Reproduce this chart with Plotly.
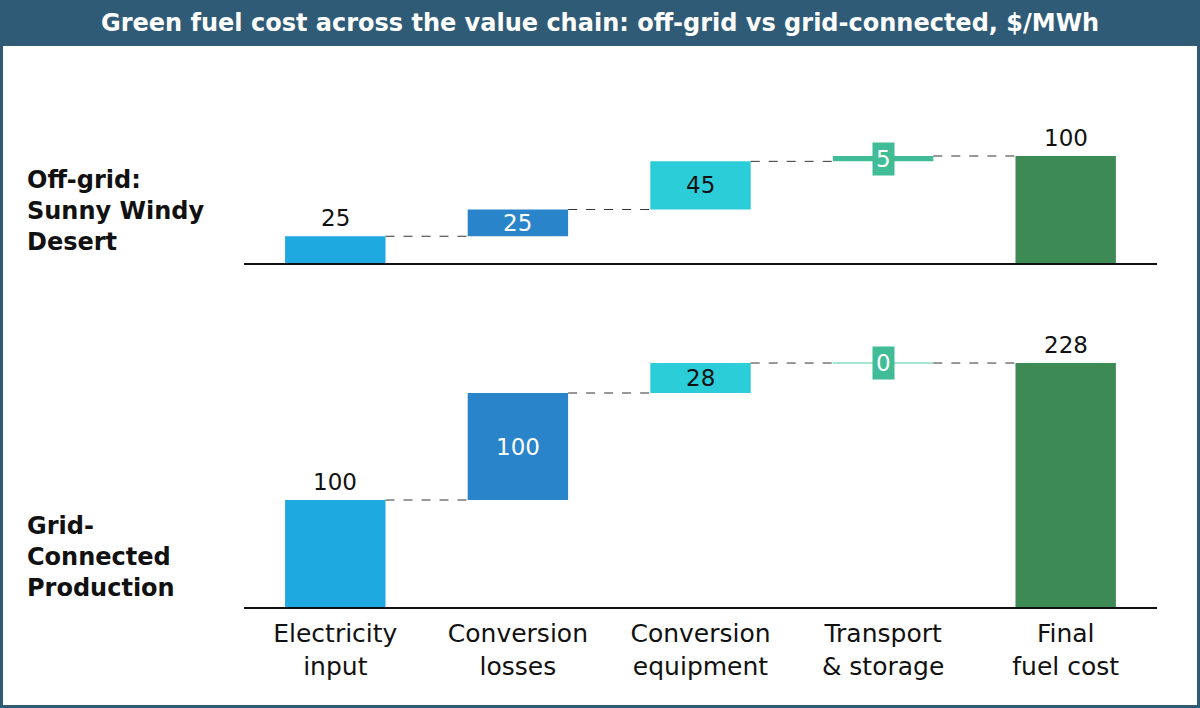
import plotly.graph_objects as go

# ---------------- data ----------------
title_text = "Green fuel cost across the value chain: off-grid vs grid-connected, $/MWh"
categories = ["Electricity<br>input", "Conversion<br>losses", "Conversion<br>equipment",
              "Transport<br>& storage", "Final<br>fuel cost"]
offgrid_steps = [25, 25, 45, 5]
grid_steps = [100, 100, 28, 0]
row_labels = ["Off-grid:<br>Sunny Windy<br>Desert", "Grid-<br>Connected<br>Production"]

# ---------------- styles ----------------
bar_colors = ["#1FA9E1", "#2A84C9", "#2ACDD8", "#40BC96", "#3D8A55"]
zero_color = "#8ADBC3"
label_mode = ["outside", "inside", "inside", "box", "outside"]
label_colors = ["#111111", "#FFFFFF", "#111111", "#FFFFFF", "#111111"]
FONT = "DejaVu Sans"
BAR_W = 0.55
HEADER = "#2F5B77"

W, H = 1200, 708
px_per_unit = 1.07
x_left, x_right = 244, 1157


def py(p):
    return 1 - p / H


fig = go.Figure()
annotations = []
shapes = []

panels = [
    (offgrid_steps, "x", "y", "x", "y"),
    (grid_steps, "x2", "y2", "x2", "y2"),
]

for steps, xa, ya, xref, yref in panels:
    n = len(steps)
    total = sum(steps)
    values = list(steps) + [total]
    bases = []
    running = 0
    for v in steps:
        bases.append(running)
        running += v
    bases.append(0)
    idx = list(range(n + 1))

    fig.add_trace(go.Bar(
        x=idx, y=values, base=bases, width=BAR_W,
        marker=dict(color=bar_colors, line=dict(width=0)),
        xaxis=xa, yaxis=ya, showlegend=False, hoverinfo="skip",
    ))

    # zero-height steps drawn as thin line
    for i, v in enumerate(values):
        if v == 0:
            fig.add_trace(go.Scatter(
                x=[i - BAR_W / 2, i + BAR_W / 2], y=[bases[i], bases[i]],
                mode="lines", line=dict(color=zero_color, width=1.5),
                xaxis=xa, yaxis=ya, showlegend=False, hoverinfo="skip"))

    # connectors
    cx, cy = [], []
    for i in range(n):
        level = bases[i] + values[i]
        cx += [i + BAR_W / 2, i + 1 - BAR_W / 2, None]
        cy += [level, level, None]
    fig.add_trace(go.Scatter(
        x=cx, y=cy, mode="lines",
        line=dict(color="#333333", width=1, dash="dash"),
        xaxis=xa, yaxis=ya, showlegend=False, hoverinfo="skip"))

    # value labels
    for i, v in enumerate(values):
        mode = label_mode[i]
        common = dict(x=i, xref=xref, yref=yref, text=str(v), showarrow=False,
                      font=dict(family=FONT, size=23, color=label_colors[i]))
        if mode == "outside":
            annotations.append(dict(y=bases[i] + v, yanchor="bottom", yshift=3, **common))
        elif mode == "inside":
            annotations.append(dict(y=bases[i] + v / 2, yanchor="middle", **common))
        else:
            annotations.append(dict(y=bases[i] + v / 2, yanchor="middle",
                                    bgcolor=bar_colors[i], borderpad=3, **common))

# row labels
def bold_lines(s):
    return "<br>".join("<b>" + part + "</b>" for part in s.split("<br>"))

annotations.append(dict(x=25 / W, y=py(211), xref="paper", yref="paper", xanchor="left",
                        yanchor="middle", align="left", showarrow=False, text=bold_lines(row_labels[0]),
                        font=dict(family=FONT, size=24, color="#111111")))
annotations.append(dict(x=25 / W, y=py(557), xref="paper", yref="paper", xanchor="left",
                        yanchor="middle", align="left", showarrow=False, text=bold_lines(row_labels[1]),
                        font=dict(family=FONT, size=24, color="#111111")))

# title
annotations.append(dict(x=0.5, y=py(23), xref="paper", yref="paper", xanchor="center",
                        yanchor="middle", showarrow=False, text="<b>" + title_text + "</b>",
                        font=dict(family=FONT, size=24, color="#FFFFFF")))

# header bar and frame
shapes.append(dict(type="rect", xref="paper", yref="paper", x0=0, x1=1, y0=py(46), y1=1,
                   fillcolor=HEADER, line=dict(width=0), layer="below"))
shapes.append(dict(type="rect", xref="paper", yref="paper", x0=0, x1=1, y0=0, y1=1,
                   fillcolor="rgba(0,0,0,0)", line=dict(color=HEADER, width=6)))

xdom = [x_left / W, x_right / W]
top_base, top_top = 263, 110
bot_base, bot_top = 607, 330

axis_common = dict(domain=xdom, range=[-0.5, 4.5], showgrid=False, zeroline=False,
                   showline=True, linecolor="#111111", linewidth=2, ticks="",
                   fixedrange=True)

fig.update_layout(
    width=W, height=H,
    margin=dict(l=0, r=0, t=0, b=0),
    paper_bgcolor="white", plot_bgcolor="rgba(0,0,0,0)",
    barmode="overlay",
    xaxis=dict(anchor="y", showticklabels=False, **axis_common),
    yaxis=dict(domain=[py(top_base), py(top_top)], range=[0, (top_base - top_top) / px_per_unit],
               visible=False, fixedrange=True),
    xaxis2=dict(anchor="y2", tickmode="array", tickvals=list(range(len(categories))),
                ticktext=categories, tickfont=dict(family=FONT, size=25, color="#111111"),
                ticklabelstandoff=3, **axis_common),
    yaxis2=dict(domain=[py(bot_base), py(bot_top)], range=[0, (bot_base - bot_top) / px_per_unit],
                visible=False, fixedrange=True),
    annotations=annotations,
    shapes=shapes,
    font=dict(family=FONT),
)

fig.write_html("out.html")
